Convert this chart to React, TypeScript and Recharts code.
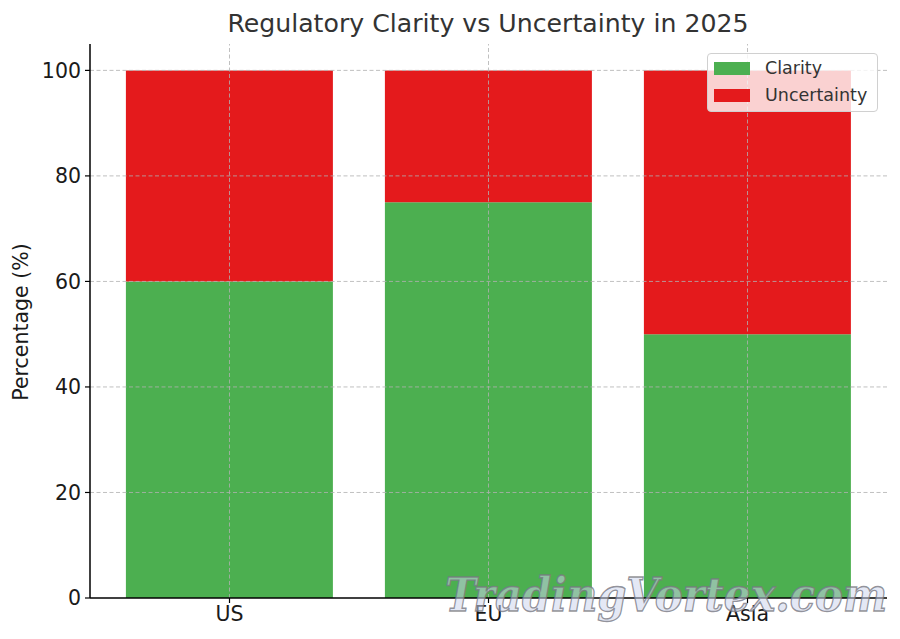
import React from 'react';
import { BarChart, Bar, XAxis, YAxis, ReferenceLine, Legend } from 'recharts';

const regions = ['US', 'EU', 'Asia'];
const clarity = [60, 75, 50];
const uncertainty = [40, 25, 50];
const yTicks = [0, 20, 40, 60, 80, 100];

const data = regions.map((region, i) => ({
  region,
  clarity: clarity[i],
  uncertainty: uncertainty[i],
}));

const FONT = '"DejaVu Sans", sans-serif';
const GREEN = '#4caf50';
const RED = '#e41a1c';
const GRID = { stroke: '#b0b0b0', strokeOpacity: 0.8, strokeDasharray: '4 2.5', strokeWidth: 1 };

const legendItems = [
  { name: 'Clarity', color: GREEN },
  { name: 'Uncertainty', color: RED },
];

const LegendBox = () => (
  <div
    style={{
      position: 'relative',
      width: 171,
      height: 59,
      boxSizing: 'border-box',
      background: 'rgba(255,255,255,0.8)',
      border: '1px solid #d0d0d0',
      borderRadius: 4,
      fontFamily: FONT,
      fontSize: 17.5,
      color: '#333',
    }}
  >
    {legendItems.map((it, i) => (
      <div key={it.name} style={{ position: 'absolute', left: 6, top: 3 + i * 27, height: 22, display: 'flex', alignItems: 'center' }}>
        <div style={{ width: 36, height: 13, background: it.color }} />
        <span style={{ marginLeft: 15, lineHeight: '22px' }}>{it.name}</span>
      </div>
    ))}
  </div>
);

export default function App() {
  return (
    <div style={{ position: 'absolute', left: 0, top: 0, width: 900, height: 639, background: '#fff' }}>
      <BarChart
        width={900}
        height={639}
        data={data}
        margin={{ top: 44, right: 13, bottom: 0, left: 0 }}
        barCategoryGap="10%"
      >
        <XAxis
          dataKey="region"
          height={41}
          padding={{ left: 10, right: 10 }}
          tickSize={5}
          tickMargin={3}
          axisLine={{ stroke: '#000', strokeWidth: 1.5 }}
          tickLine={{ stroke: '#000', strokeWidth: 1.2 }}
          tick={{ fill: '#1a1a1a', fontSize: 20.5, fontFamily: FONT }}
        />
        <YAxis
          width={90}
          domain={[0, 105]}
          ticks={yTicks}
          tickSize={5}
          tickMargin={4}
          axisLine={{ stroke: '#000', strokeWidth: 1.5 }}
          tickLine={{ stroke: '#000', strokeWidth: 1.2 }}
          tick={{ fill: '#1a1a1a', fontSize: 20.5, fontFamily: FONT }}
        />
        <Bar dataKey="clarity" stackId="a" fill={GREEN} name="Clarity" isAnimationActive={false} />
        <Bar dataKey="uncertainty" stackId="a" fill={RED} name="Uncertainty" isAnimationActive={false} />
        {/* dashed grid drawn over the bars, like the matplotlib original */}
        {yTicks.filter((v) => v > 0).map((v) => (
          <ReferenceLine key={'h' + v} y={v} {...GRID} />
        ))}
        {regions.map((r) => (
          <ReferenceLine key={'v' + r} x={r} {...GRID} />
        ))}
        <Legend
          layout="vertical"
          align="center"
          verticalAlign="middle"
          wrapperStyle={{ top: 53, left: 707, width: 171, height: 59 }}
          content={() => <LegendBox />}
        />
      </BarChart>
      <svg
        width={900}
        height={639}
        style={{ position: 'absolute', left: 0, top: 0, pointerEvents: 'none' }}
      >
        <text x={488} y={32} textAnchor="middle" fontFamily={FONT} fontSize={25.2} fill="#333">
          Regulatory Clarity vs Uncertainty in 2025
        </text>
        <text
          x={27.5}
          y={322}
          transform="rotate(-90 27.5 322)"
          textAnchor="middle"
          fontFamily={FONT}
          fontSize={20.5}
          fill="#1a1a1a"
        >
          Percentage (%)
        </text>
        <text
          x={445}
          y={611}
          textLength={442}
          lengthAdjust="spacingAndGlyphs"
          fontFamily='"DejaVu Serif", serif'
          fontStyle="italic"
          fontWeight="bold"
          fontSize={46}
          fill="rgba(205,212,238,0.55)"
          stroke="rgba(120,120,130,0.8)"
          strokeWidth={1.3}
        >
          TradingVortex.com
        </text>
      </svg>
    </div>
  );
}
